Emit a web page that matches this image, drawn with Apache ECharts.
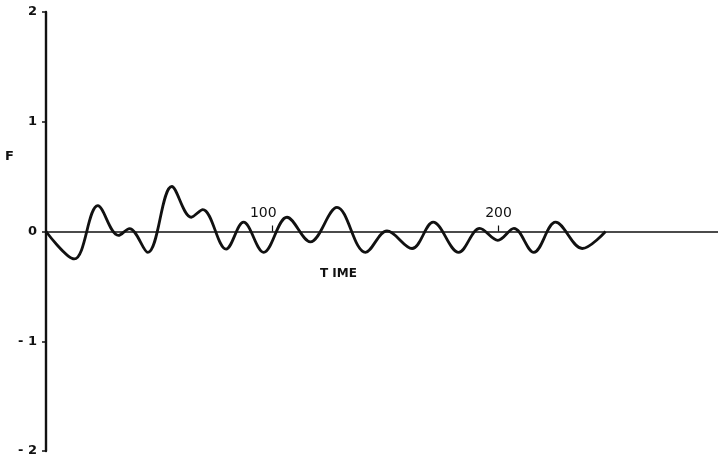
<!DOCTYPE html>
<html>
<head>
<meta charset="utf-8">
<script src="https://cdn.jsdelivr.net/npm/echarts@6/dist/echarts.min.js"></script>
<style>
  html, body { margin: 0; padding: 0; background: #fff; }
  #chart { width: 718px; height: 461px; }
</style>
</head>
<body>
<div id="chart"></div>
<script>
// Force response F over time: turning points of the oscillation
const timeValues = [0, 12.5, 22.9, 32, 36.9, 45, 55.6, 64.2, 69.3,
  79.6, 87.3, 96.2, 106.5, 116.8, 128.6, 141.2, 150.7,
  161.8, 171.1, 182.4, 191.7, 199.7, 206.8, 215.6, 225.2,
  237, 247.3];
const forceValues = [0, -0.25, 0.235, -0.036, 0.027, -0.19, 0.41, 0.13, 0.2,
  -0.16, 0.085, -0.19, 0.13, -0.094, 0.22, -0.19, 0.005,
  -0.155, 0.085, -0.19, 0.028, -0.08, 0.028, -0.19, 0.085,
  -0.155, 0];
const xTickValues = [100, 200];
const xTickLabels = { 100: '{l|100}', 200: '{c|200}' };
const yTickLabels = { 2: '2', 1: '1', 0: '0', '-1': '- 1', '-2': '- 2' };

const points = timeValues.map((t, i) => [t, forceValues[i]]);
const ink = '#111';
const X_MAX = 297;

const chart = echarts.init(document.getElementById('chart'));
chart.setOption({
  animation: false,
  grid: [
    // plotting area for the curve and the F axis
    { left: 46, right: 0, top: 12, bottom: 10 },
    // upper half only: its bottom edge is the F = 0 line, carrying the time axis
    { left: 46, right: 0, top: 12, bottom: 229.5 }
  ],
  xAxis: [
    { gridIndex: 0, type: 'value', min: 0, max: X_MAX, show: false },
    {
      gridIndex: 1, type: 'value', min: 0, max: X_MAX, interval: 100, position: 'bottom',
      axisLine: { show: true, onZero: false, lineStyle: { color: ink, width: 1.6 } },
      axisTick: { show: true, inside: true, length: 6, customValues: xTickValues,
        lineStyle: { color: ink, width: 1.2 } },
      axisLabel: {
        inside: true, margin: 11, color: ink, customValues: xTickValues,
        fontFamily: '"DejaVu Sans", sans-serif', fontSize: 14,
        formatter: v => xTickLabels[v] || '',
        rich: {
          l: { fontSize: 14, color: ink, padding: [0, 18, 0, 0] },
          c: { fontSize: 14, color: ink }
        }
      },
      splitLine: { show: false }
    }
  ],
  yAxis: [
    {
      gridIndex: 0, type: 'value', min: -2, max: 2, interval: 1,
      axisLine: { show: true, lineStyle: { color: ink, width: 2.4 } },
      axisTick: { length: 4, lineStyle: { color: ink, width: 1.5 } },
      axisLabel: {
        margin: 9, color: ink,
        fontFamily: '"DejaVu Sans", sans-serif', fontSize: 13, fontWeight: 'bold',
        formatter: v => yTickLabels[v] ?? ''
      },
      splitLine: { show: false }
    },
    { gridIndex: 1, type: 'value', min: 0, max: 2, show: false }
  ],
  graphic: [
    { type: 'text', left: 5, top: 150, style: { text: 'F', font: 'bold 13px "DejaVu Sans", sans-serif', fill: ink } },
    { type: 'text', left: 320, top: 268, style: { text: 'T IME', font: 'bold 12px "DejaVu Sans", sans-serif', fill: ink } }
  ],
  series: [{
    type: 'line',
    xAxisIndex: 0,
    yAxisIndex: 0,
    data: points,
    smooth: 0.36,
    showSymbol: false,
    lineStyle: { color: ink, width: 2.8 }
  }]
});
</script>
</body>
</html>
